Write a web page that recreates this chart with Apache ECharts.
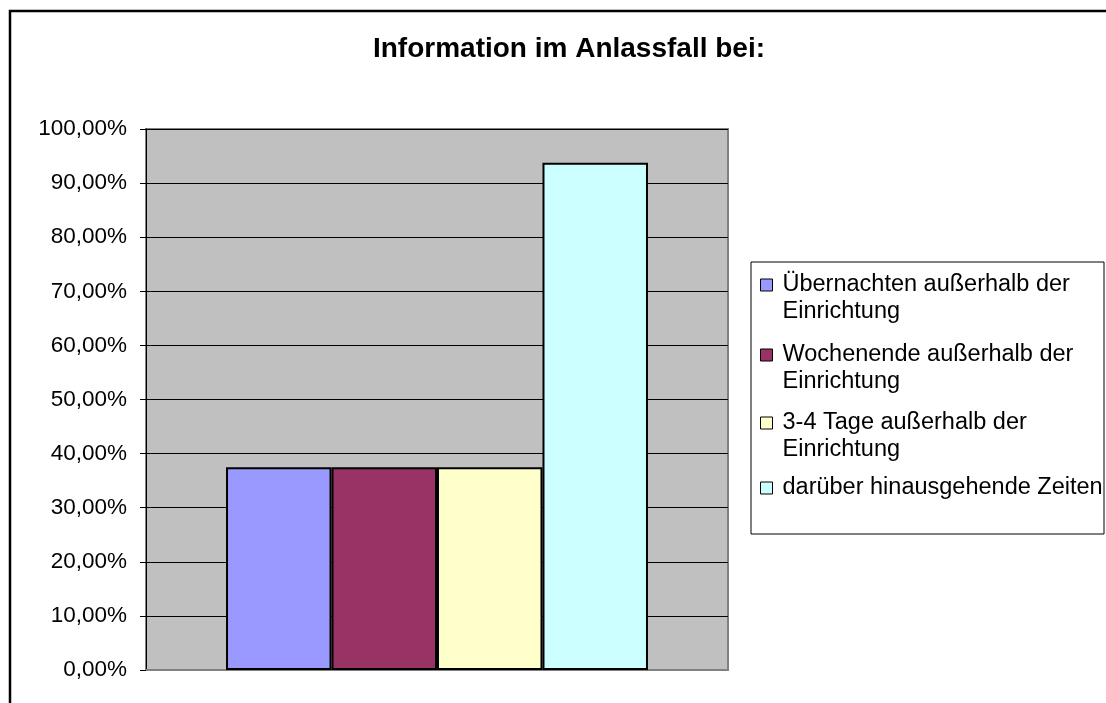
<!DOCTYPE html>
<html>
<head>
<meta charset="utf-8">
<script src="https://cdn.jsdelivr.net/npm/echarts@6/dist/echarts.min.js"></script>
<style>
  html, body { margin: 0; padding: 0; background: #fff; }
  #main { width: 1106px; height: 703px; }
</style>
</head>
<body>
<div id="main"></div>
<script>
// Daten
var categories = [''];
var seriesNames = [
    'Übernachten außerhalb der\nEinrichtung',
    'Wochenende außerhalb der\nEinrichtung',
    '3-4 Tage außerhalb der\nEinrichtung',
    'darüber hinausgehende Zeiten'
];
var seriesValues = [37.5, 37.5, 37.5, 93.75];
var seriesColors = ['#9999FF', '#993366', '#FFFFCC', '#CCFFFF'];
var yTicks = [0, 10, 20, 30, 40, 50, 60, 70, 80, 90, 100];

var myChart = echarts.init(document.getElementById('main'));

var fontName = 'Liberation Sans, Arial, sans-serif';

// Legende: je Eintrag eine eigene Legende, Kästchen auf Höhe der ersten Zeile
var legendCenters = [285, 355, 423, 488];
var legends = seriesNames.map(function (name, i) {
    var lines = name.split('\n');
    return {
        orient: 'vertical',
        left: 760,
        top: legendCenters[i] - 13.5 - (lines.length - 1) * 27,
        padding: 0,
        icon: 'rect',
        itemWidth: 12,
        itemHeight: 12,
        itemGap: 0,
        selectedMode: false,
        itemStyle: { borderColor: '#000', borderWidth: 1 },
        formatter: function (n) {
            var parts = n.split('\n');
            var txt = parts.map(function (p) { return '{t|' + p + '}'; }).join('\n');
            // leere Zeilen davor, damit die erste Zeile mittig am Kästchen steht
            for (var k = 1; k < parts.length; k++) txt = '{t| }\n' + txt;
            return txt;
        },
        textStyle: {
            fontFamily: fontName,
            fontSize: 23.5,
            color: '#000',
            lineHeight: 27,
            rich: {
                t: { fontFamily: fontName, fontSize: 23.5, lineHeight: 27, color: '#000', padding: [0, 0, 0, 5] }
            }
        },
        data: [name]
    };
});

var series = seriesNames.map(function (name, i) {
    return {
        name: name,
        type: 'bar',
        barGap: '0%',
        barCategoryGap: '27.5%',
        itemStyle: { color: seriesColors[i], borderColor: '#000', borderWidth: 2 },
        data: [seriesValues[i]]
    };
});

var option = {
    animation: false,
    backgroundColor: '#fff',
    title: {
        text: 'Information im Anlassfall bei:',
        left: 564,
        textAlign: 'center',
        top: 30,
        textStyle: { fontFamily: fontName, fontSize: 28, fontWeight: 'bold', color: '#000' }
    },
    graphic: [
        {
            type: 'rect',
            shape: { x: 10, y: 11, width: 1200, height: 800 },
            style: { fill: 'none', stroke: '#000', lineWidth: 2.5 },
            z: 0
        },
        {
            type: 'rect',
            shape: { x: 751, y: 262, width: 353, height: 272 },
            style: { fill: '#fff', stroke: '#000', lineWidth: 1 },
            z: 0
        }
    ],
    legend: legends,
    grid: {
        left: 146,
        top: 129,
        right: 378,
        bottom: 33,
        show: true,
        backgroundColor: '#C0C0C0',
        borderColor: '#808080',
        borderWidth: 2
    },
    xAxis: {
        type: 'category',
        data: categories,
        axisLine: { show: true, lineStyle: { color: '#808080', width: 2 } },
        axisTick: { show: false },
        axisLabel: { show: false }
    },
    yAxis: {
        type: 'value',
        min: yTicks[0],
        max: yTicks[yTicks.length - 1],
        interval: 10,
        axisLine: { show: true, lineStyle: { color: '#000', width: 1 } },
        axisTick: { show: true, inside: false, length: 6, lineStyle: { color: '#000' } },
        axisLabel: {
            margin: 19,
            fontFamily: fontName,
            fontSize: 22.5,
            color: '#000',
            formatter: function (v) { return v.toFixed(2).replace('.', ',') + '%'; }
        },
        splitLine: { show: true, lineStyle: { color: '#000', width: 1 } }
    },
    series: series
};

myChart.setOption(option);
</script>
</body>
</html>
